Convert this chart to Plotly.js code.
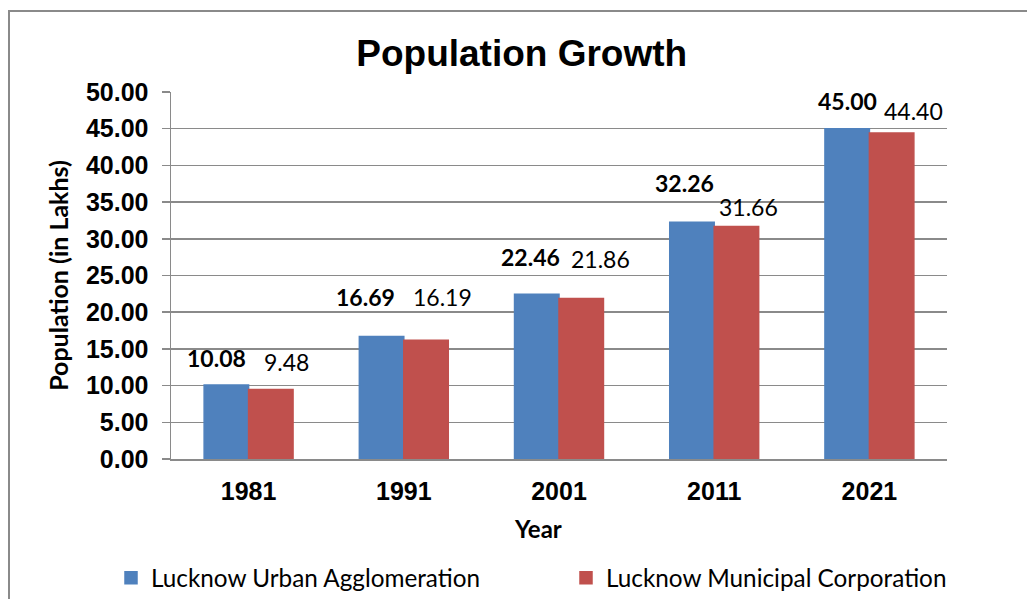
<!DOCTYPE html>
<html>
<head>
<meta charset="utf-8">
<script src="https://cdn.plot.ly/plotly-3.0.1.min.js"></script>
<style>
html,body{margin:0;padding:0;overflow:hidden;background:#fff;}
#chart{position:absolute;left:0;top:0;width:1027px;height:599px;}
#frame{position:absolute;left:8px;top:10px;width:1100px;height:700px;border:2px solid #8a8a8a;pointer-events:none;}
</style>
</head>
<body>
<div id="chart"></div>
<div id="frame"></div>
<script>
// ---- data ----
const years = ["1981", "1991", "2001", "2011", "2021"];
const urbanAgglomeration = [10.08, 16.69, 22.46, 32.26, 45.00];
const municipalCorporation = [9.48, 16.19, 21.86, 31.66, 44.40];
const seriesNames = ["Lucknow Urban Agglomeration", "Lucknow Municipal Corporation"];
const yTicks = [0, 5, 10, 15, 20, 25, 30, 35, 40, 45, 50];

// ---- label placement tweaks (pixels, as in the original) ----
const uaDx = [-32, -38, -29, -30, -22];
const uaDy = [27, 40, 37, 39, 28];
const mcDx = [38, 39, 41, 34, 44];
const mcDy = [27, 43, 40, 20, 22];

const labelFont = "Lato, 'Open Sans', sans-serif";
const axisFont = "Liberation Sans";
const blue = "#4F81BD", red = "#C0504D";

const traces = [
  {type: "bar", name: seriesNames[0], x: years, y: urbanAgglomeration, legend: "legend",
   marker: {color: blue, line: {width: 1.5, color: blue}}, hoverinfo: "skip"},
  {type: "bar", name: seriesNames[1], x: years, y: municipalCorporation, legend: "legend2",
   marker: {color: red, line: {width: 1.5, color: red}}, hoverinfo: "skip"}
];

const annotations = [];
years.forEach((yr, i) => {
  annotations.push({x: i, y: urbanAgglomeration[i], xref: "x", yref: "y",
    text: "<b>" + urbanAgglomeration[i].toFixed(2) + "</b>", showarrow: false,
    xshift: uaDx[i], yshift: uaDy[i], xanchor: "center", yanchor: "middle",
    font: {family: labelFont, size: 23, color: "#000"}});
  annotations.push({x: i, y: municipalCorporation[i], xref: "x", yref: "y",
    text: municipalCorporation[i].toFixed(2), showarrow: false,
    xshift: mcDx[i], yshift: mcDy[i], xanchor: "center", yanchor: "middle",
    font: {family: labelFont, size: 23, color: "#000"}});
});
annotations.push({text: "<b>Year</b>", xref: "paper", yref: "paper", x: 0.473, y: -0.19,
  xanchor: "center", yanchor: "middle", showarrow: false,
  font: {family: labelFont, size: 24, color: "#000"}});

const legendCommon = {orientation: "h", xref: "container", yref: "container", y: 1 - 578/599,
  xanchor: "left", yanchor: "middle", bgcolor: "rgba(0,0,0,0)",
  font: {family: labelFont, size: 24.3, color: "#000"}, itemclick: false};

const layout = {
  width: 1027, height: 599,
  margin: {l: 171, r: 80, t: 92, b: 139.5},
  paper_bgcolor: "#fff", plot_bgcolor: "#fff",
  title: {text: "<b>Population Growth</b>", font: {family: axisFont, size: 37, color: "#000"},
    xref: "container", yref: "container", x: 0.508, y: 1 - 53/599, xanchor: "center", yanchor: "middle"},
  barmode: "group", bargap: 0.427, bargroupgap: 0,
  showlegend: true,
  legend: Object.assign({}, legendCommon, {x: 111/1027}),
  legend2: Object.assign({}, legendCommon, {x: 566/1027}),
  xaxis: {type: "category", range: [-0.5, 4.5], autorange: false, showgrid: false,
    showline: true, linecolor: "#8a8a8a", linewidth: 1.5,
    tickvals: years, ticktext: years.map(y => "<b>" + y + "</b>"),
    ticks: "", ticklabelstandoff: 9,
    tickfont: {family: axisFont, size: 25, color: "#000"}},
  yaxis: {range: [0, 50], autorange: false, tickvals: yTicks, ticktext: yTicks.map(v => "<b>" + v.toFixed(2) + "</b>"),
    showgrid: true, gridcolor: "#8a8a8a", gridwidth: 1.5,
    showline: true, linecolor: "#8a8a8a", linewidth: 1.5,
    ticks: "outside", ticklen: 8, tickcolor: "#8a8a8a", tickwidth: 1.5,
    ticklabelstandoff: 8, zeroline: false,
    tickfont: {family: axisFont, size: 25, color: "#000"},
    title: {text: "<b>Population (in Lakhs)</b>", font: {family: labelFont, size: 25, color: "#000"}, standoff: 10}},
  annotations: annotations
};

Plotly.newPlot("chart", traces, layout, {staticPlot: true, displayModeBar: false});
</script>
</body>
</html>
